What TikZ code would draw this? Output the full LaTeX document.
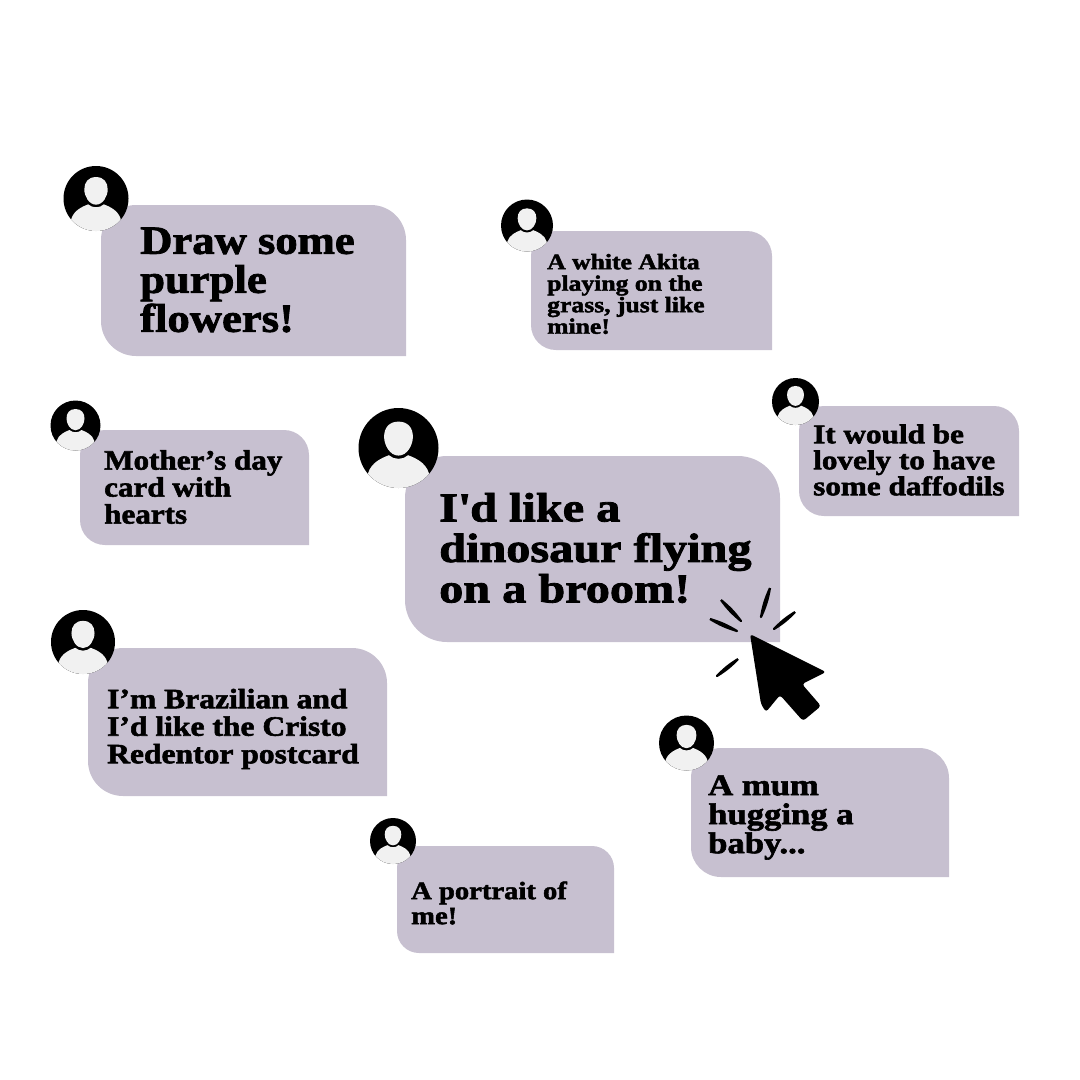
\documentclass[tikz,border=0pt]{standalone}
\usepackage{fontspec}
\setmainfont{Liberation Serif}[BoldFont={Liberation Serif Bold},BoldFeatures={FakeBold=2,FakeStretch=1.1}]
\definecolor{bubblelilac}{HTML}{C7C0D0}
\definecolor{avatarlight}{HTML}{F1F1F1}
\newcommand{\bubble}[5]{\fill[bubblelilac, rounded corners=#5] (#3,#4) -- (#1,#4) -- (#1,#2) -- (#3,#2) -- (#3,#4);}
\tikzset{
  said/.style n args={3}{anchor=west, align=left, inner sep=0pt, transform shape, xscale=#3, font=\bfseries\fontsize{#1}{#2}\selectfont},
  avatar/.pic={
    \fill[black] (0,0) circle (1);
    \clip (0,0) circle (1);
    \fill[avatarlight] (0,-0.66) .. controls (0.24,-0.66) and (0.36,-0.5) .. (0.36,-0.28) .. controls (0.36,-0.08) and (0.22,0.19) .. (0,0.19) .. controls (-0.22,0.19) and (-0.36,-0.08) .. (-0.36,-0.28) .. controls (-0.36,-0.5) and (-0.24,-0.66) .. (0,-0.66) -- cycle;
    \fill[avatarlight] (-0.85,1.05) -- (-0.76,0.63) .. controls (-0.68,0.36) and (-0.42,0.25) .. (-0.24,0.18) .. controls (-0.12,0.3) and (0.12,0.3) .. (0.24,0.18) .. controls (0.42,0.25) and (0.68,0.36) .. (0.76,0.63) -- (0.85,1.05) -- cycle;
  }
}
\begin{document}
\begin{tikzpicture}[x=1pt, y=-1pt]
\useasboundingbox (0,0) rectangle (1080,1080);

\bubble{101}{205}{406}{356}{35}
\bubble{531}{231}{772}{350}{25}
\bubble{80}{430}{309}{545}{25}
\bubble{405}{456}{780}{642}{42}
\bubble{799}{406}{1019}{516}{25}
\bubble{88}{648}{387}{796}{35}
\bubble{691}{748}{949}{877}{30}
\bubble{397}{846}{614}{953}{22}

\pic (flowersface) [scale=32.5] at (96,198.5) {avatar};
\pic (akitaface) [scale=26] at (527,225.5) {avatar};
\pic (motherface) [scale=25] at (75.5,425.5) {avatar};
\pic (dinosaurface) [scale=40] at (398.5,448) {avatar};
\pic (daffodilface) [scale=23.5] at (795.5,401.5) {avatar};
\pic (cristoface) [scale=32] at (83,642) {avatar};
\pic (mumface) [scale=27.5] at (686.5,743) {avatar};
\pic (portraitface) [scale=23] at (393,841) {avatar};

\node (flowers) [said={40}{39}{1.015}] at (140,280) {Draw some\\purple\\flowers!};
\node (akita) [said={22}{21.5}{1.06}] at (547,294) {A white Akita\\playing on the\\grass, just like\\mine!};
\node (mother) [said={28}{27}{1.01}] at (104,487) {Mother’s day\\card with\\hearts};
\node (dinosaur) [said={41}{40.5}{1.07}] at (439,548) {I\textquotesingle d like a\\dinosaur flying\\on a broom!};
\node (daffodil) [said={27}{26}{1.05}] at (813,460) {It would be\\lovely to have\\some daffodils};
\node (cristo) [said={28}{27.5}{1.025}] at (107,729) {I’m Brazilian and\\I’d like the Cristo\\Redentor postcard};
\node (mum) [said={30}{29}{1.05}] at (708,817.5) {A mum\\hugging a\\baby...};
\node (portrait) [said={25}{25}{1.04}] at (411,903) {A portrait of\\me!};

\fill[black, rounded corners=3pt] (750,634) -- (826,672) -- (802,684) -- (821,706) -- (803,721) -- (780,695) -- (766,712) -- (761,704) -- cycle;
\foreach \xa/\ya/\xb/\yb in {721/600/741/621, 710/619/737/631, 770/588/761/617, 795/612/774/629, 738/659/717/676}
  \filldraw[black, line width=2.2pt, line join=round] (\xa,\ya) to[bend left=7] (\xb,\yb) to[bend left=7] (\xa,\ya);
\end{tikzpicture}
\end{document}
